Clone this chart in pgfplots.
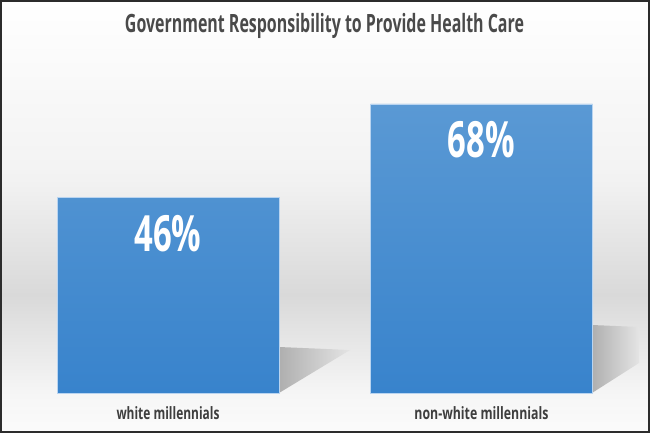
\documentclass[border=0pt]{standalone}
\usepackage{pgfplots}
\pgfplotsset{compat=1.18}
\usepackage{graphicx}
\usepackage{fontspec}
\setmainfont{Open Sans}
\definecolor{titlegray}{HTML}{4A4A4A}
\definecolor{catgray}{HTML}{3E3E3E}
\definecolor{bartop}{RGB}{90,153,212}
\definecolor{barbot}{RGB}{56,131,204}
\definecolor{baredge}{RGB}{185,212,240}
\definecolor{bgA}{HTML}{FFFFFF}
\definecolor{bgB}{HTML}{F2F2F2}
\definecolor{bgC}{HTML}{D9D9D9}
\definecolor{bgD}{HTML}{F6F6F6}
\definecolor{bgE}{HTML}{FBFBFB}
\definecolor{shadowA}{HTML}{AFAFAF}
\definecolor{shadowB}{HTML}{E4E4E4}
\definecolor{framec}{HTML}{2C2C2C}
\begin{document}
\begin{tikzpicture}[x=1pt,y=1pt]
\path[use as bounding box] (0,0) rectangle (650,433);
% background
\shade[top color=bgA,bottom color=bgB,draw=none] (0,433) rectangle (650,253);
\shade[top color=bgB,bottom color=bgC,draw=none] (0,253.5) rectangle (650,138);
\shade[top color=bgC,bottom color=bgD,draw=none] (0,138.5) rectangle (650,38);
\shade[top color=bgD,bottom color=bgE,draw=none] (0,38.5) rectangle (650,0);
% shadows
\shade[left color=shadowA,right color=shadowB,draw=none] (279,86) -- (350,83) -- (279,40) -- cycle;
\shade[left color=shadowA,right color=shadowB,draw=none] (592,108) -- (639,106) -- (639,70) -- (592,40) -- cycle;
% title
\node[anchor=base,inner sep=0,text=titlegray] at (324.5,400)
  {\resizebox{399pt}{\height}{\fontsize{25.2}{30}\selectfont\bfseries Government Responsibility to Provide Health Care}};
\begin{axis}[
  at={(0pt,40pt)}, anchor=south west,
  scale only axis, width=650pt, height=353pt,
  xmin=-0.5359, xmax=1.5375, ymin=0, ymax=83.06,
  axis line style={draw=none}, tick style={draw=none},
  ytick=\empty, yticklabels={},
  xtick=data,
  xticklabels={{\resizebox{103pt}{\height}{\fontsize{17}{20}\selectfont\bfseries white millennials}},{\resizebox{134pt}{\height}{\fontsize{17}{20}\selectfont\bfseries non-white millennials}}},
  xticklabel style={anchor=base,inner sep=0pt,yshift=-22pt,text=catgray},
  ybar, bar width=222pt,
  nodes near coords={\resizebox{67pt}{\height}{\fontsize{50}{60}\selectfont\bfseries\pgfmathprintnumber[assume math mode=true,fixed,precision=0]{\pgfplotspointmeta}\%}},
  every node near coord/.append style={anchor=north,inner sep=0pt,yshift=-17pt,text=white},
  clip=false,
]
\addplot[draw=baredge,line width=0.8pt,top color=bartop,bottom color=barbot] coordinates {(0,46) (1,68)};
\end{axis}
\draw[framec,line width=2pt] (1,1) rectangle (649,432);
\end{tikzpicture}
\end{document}
